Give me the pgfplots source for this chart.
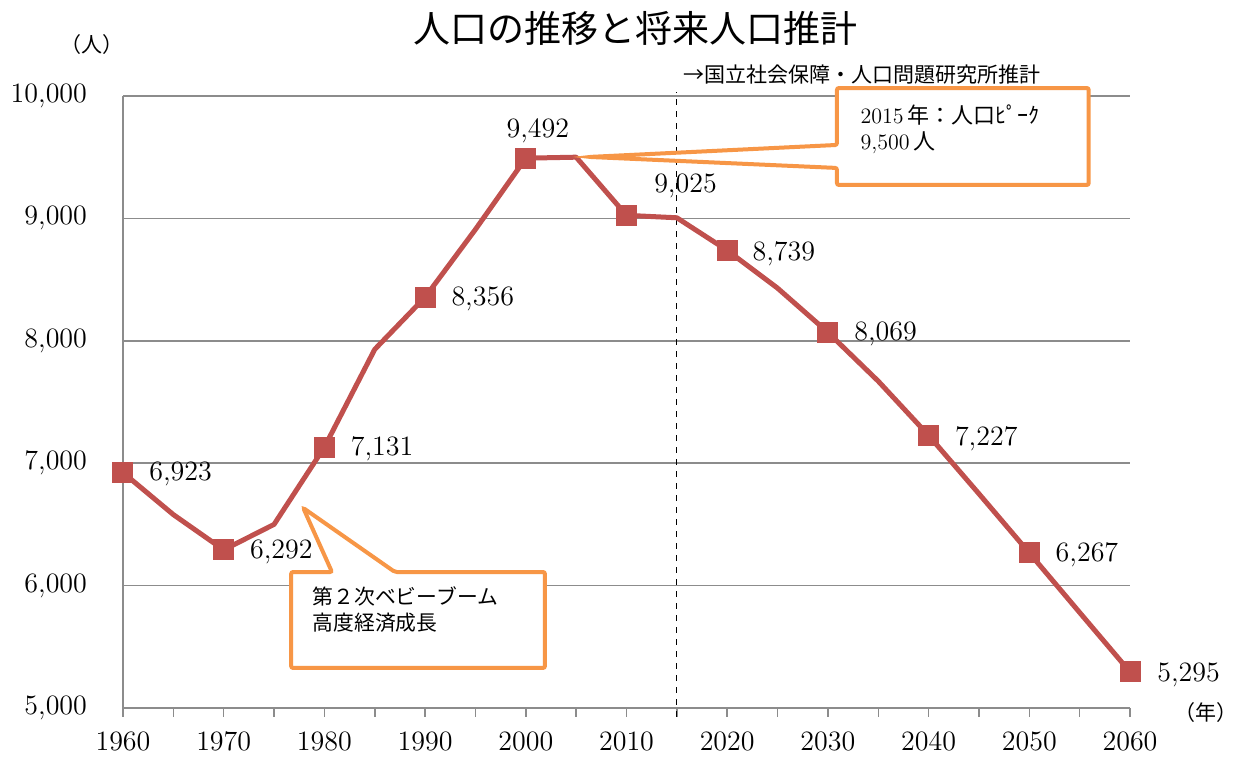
\documentclass[border=0pt]{standalone}
\usepackage{fontspec}
\usepackage{pgfplots}
\pgfplotsset{compat=1.18}
\newfontfamily\jp{Noto Sans CJK JP}
\definecolor{linec}{HTML}{C0504D}
\definecolor{callc}{HTML}{F79646}
\definecolor{gridc}{HTML}{8C8C8C}
\pgfplotstableread{
year pop
1960 6923
1965 6580
1970 6292
1975 6500
1980 7131
1985 7930
1990 8356
1995 8910
2000 9492
2005 9500
2010 9025
2015 9005
2020 8739
2025 8430
2030 8069
2035 7670
2040 7227
2045 6750
2050 6267
2055 5780
2060 5295
}\popdata
\pgfplotstableread{
year pop
1960 6923
1970 6292
1980 7131
1990 8356
2000 9492
2010 9025
2020 8739
2030 8069
2040 7227
2050 6267
2060 5295
}\markdata
\begin{document}
\begin{tikzpicture}[x=1pt,y=1pt]
\path[use as bounding box] (-61.5,-25) rectangle (556.5,354);
\begin{axis}[
  scale only axis, width=503.5pt, height=306pt,
  at={(0,0)}, anchor=south west,
  xmin=1960, xmax=2060, ymin=5000, ymax=10000,
  axis x line*=bottom, axis y line*=left,
  xtick={1960,1970,...,2060},
  xticklabels={1960,1970,1980,1990,2000,2010,2020,2030,2040,2050,2060},
  minor xtick={1965,1975,...,2055},
  ytick={5000,6000,...,10000},
  yticklabels={{5,000},{6,000},{7,000},{8,000},{9,000},{10,000}},
  scaled y ticks=false, scaled x ticks=false,
  ymajorgrids,
  major grid style={gridc, line width=0.75pt},
  axis line style={gridc, line width=0.75pt},
  tick style={gridc, line width=0.75pt},
  tick align=outside,
  major tick length=4.5pt, minor tick length=4.5pt,
  ytick style={draw=none},
  yticklabel style={font=\fontsize{14}{16}\selectfont, xshift=-10pt},
  xticklabel style={font=\fontsize{14}{16}\selectfont, yshift=-4pt},
  clip=false,
]
\draw[black, dashed, line width=0.5pt] (axis cs:2015,4930) -- (axis cs:2015,10030);
\addplot[linec, line width=2.5pt, no markers, line join=round] table[x=year,y=pop]{\popdata};
\addplot[only marks, mark=square*, mark size=5pt, mark options={fill=linec, draw=linec, line width=0pt}] table[x=year,y=pop]{\markdata};

\begin{scope}[every node/.style={font=\fontsize{14}{16}\selectfont, inner sep=0pt}]
\node[anchor=west, xshift=13pt, yshift=-0.5pt] at (axis cs:1960,6923) {6,923};
\node[anchor=west, xshift=13pt, yshift=-1pt] at (axis cs:1970,6292) {6,292};
\node[anchor=west, xshift=13pt, yshift=-1pt] at (axis cs:1980,7131) {7,131};
\node[anchor=west, xshift=13pt, yshift=-1pt] at (axis cs:1990,8356) {8,356};
\node[xshift=6pt, yshift=13.5pt] at (axis cs:2000,9492) {9,492};
\node[xshift=29.5pt, yshift=14.5pt] at (axis cs:2010,9025) {9,025};
\node[anchor=west, xshift=12.5pt, yshift=-1.5pt] at (axis cs:2020,8739) {8,739};
\node[anchor=west, xshift=13pt, yshift=-1pt] at (axis cs:2030,8069) {8,069};
\node[anchor=west, xshift=13pt, yshift=-1.5pt] at (axis cs:2040,7227) {7,227};
\node[anchor=west, xshift=13pt, yshift=-1pt] at (axis cs:2050,6267) {6,267};
\node[anchor=west, xshift=13.5pt, yshift=-1.5pt] at (axis cs:2060,5295) {5,295};
\end{scope}

% callout 1
\draw[callc, line width=2pt, fill=white, rounded corners=1pt]
  (axis cs:2030.9,10065) -- (axis cs:2055.9,10065) -- (axis cs:2055.9,9273)
  -- (axis cs:2030.9,9273) -- (axis cs:2030.9,9412) -- (axis cs:2006.3,9502)
  -- (axis cs:2030.9,9600) -- cycle;
\node[anchor=west, inner sep=0pt, font=\fontsize{11}{13}\selectfont] at (axis cs:2033.2,9845) {2015\,{\jp 年：人口ﾋﾟｰｸ}};
\node[anchor=west, inner sep=0pt, font=\fontsize{11}{13}\selectfont] at (axis cs:2033.2,9616) {9,500\,{\jp 人}};

% callout 2
\draw[callc, line width=2pt, fill=white, rounded corners=1pt]
  (axis cs:1976.7,6111) -- (axis cs:1980.75,6111) -- (axis cs:1977.9,6634)
  -- (axis cs:1987.0,6111) -- (axis cs:2001.9,6111) -- (axis cs:2001.9,5327)
  -- (axis cs:1976.7,5327) -- cycle;
\node[anchor=west, inner sep=0pt, font=\jp\fontsize{10.4}{12}\selectfont] at (axis cs:1978.8,5915) {第２次ベビーブーム};
\node[anchor=west, inner sep=0pt, font=\jp\fontsize{10.4}{12}\selectfont] at (axis cs:1978.8,5694) {高度経済成長};

% texts
\node[inner sep=0pt, font=\jp\fontsize{18.5}{20}\selectfont] at (axis cs:2010.9,10556) {人口の推移と将来人口推計};
\node[anchor=west, inner sep=0pt, font=\jp\fontsize{10.5}{12}\selectfont] at (axis cs:2015.6,10172) {→国立社会保障・人口問題研究所推計};
\node[inner sep=0pt, font=\jp\fontsize{10.5}{12}\selectfont] at (axis cs:1956.9,10417) {（人）};
\node[inner sep=0pt, font=\jp\fontsize{10.5}{12}\selectfont] at (axis cs:2067.5,4967) {（年）};
\end{axis}
\end{tikzpicture}
\end{document}
